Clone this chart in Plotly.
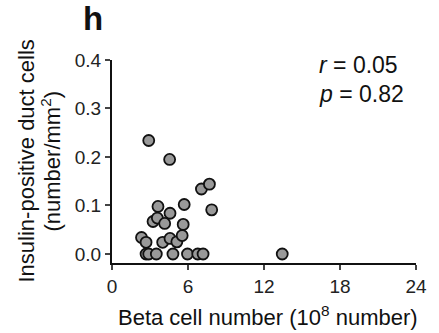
import plotly.graph_objects as go

beta_cells = [2.90, 4.55, 7.06, 7.69, 7.87, 3.63, 5.70, 4.58, 3.24, 3.58, 4.16, 5.62,
              2.33, 2.69, 4.00, 4.58, 5.12, 5.54,
              2.69, 2.90, 3.50, 4.81, 5.96, 6.77, 7.19, 13.44]
duct_cells = [0.234, 0.195, 0.134, 0.144, 0.091, 0.098, 0.102, 0.084, 0.067, 0.074, 0.063, 0.061,
              0.034, 0.024, 0.024, 0.032, 0.025, 0.038,
              0, 0, 0, 0, 0, 0, 0, 0]
x_ticks = [0, 6, 12, 18, 24]
y_ticks = [0.0, 0.1, 0.2, 0.3, 0.4]
y_tick_labels = ["0.0", "0.1", "0.2", "0.3", "0.4"]

FONT = "Liberation Sans, Arial, sans-serif"
INK = "#111111"

fig = go.Figure(go.Scatter(
    x=beta_cells, y=duct_cells, mode="markers",
    marker=dict(size=11, color="#999999", line=dict(color=INK, width=1.8)),
    cliponaxis=False, hoverinfo="skip",
))

fig.update_layout(
    width=439, height=333,
    margin=dict(l=112, r=21, t=60, b=70),
    paper_bgcolor="white", plot_bgcolor="white",
    showlegend=False,
    font=dict(family=FONT, color=INK),
    xaxis=dict(
        range=[0, 24], tickvals=x_ticks, ticks="outside", ticklen=5, tickwidth=1.8,
        showline=True, linewidth=2, linecolor=INK, showgrid=False, zeroline=False,
        tickfont=dict(size=19, family=FONT, color="#222222"),
    ),
    yaxis=dict(
        range=[-0.0186, 0.4], tickvals=y_ticks, ticktext=y_tick_labels, ticks="outside", ticklen=5, tickwidth=1.8,
        showline=True, linewidth=2, linecolor=INK, showgrid=False, zeroline=False,
        tickfont=dict(size=19, family=FONT, color="#222222"),
    ),
    annotations=[
        dict(text="<b>h</b>", xref="paper", yref="paper", x=0, y=1, xanchor="left", yanchor="top",
             xshift=-31, yshift=62, showarrow=False, font=dict(size=33, family=FONT, color=INK)),
        dict(text="Insulin-positive duct cells", xref="paper", yref="paper", x=0, y=0.5,
             xanchor="center", yanchor="middle", xshift=-86, textangle=-90, showarrow=False,
             font=dict(size=22, family=FONT, color=INK)),
        dict(text="(number/mm<sup>2</sup>)", xref="paper", yref="paper", x=0, y=0.5,
             xanchor="center", yanchor="middle", xshift=-62, textangle=-90, showarrow=False,
             font=dict(size=22, family=FONT, color=INK)),
        dict(text="Beta cell number (10<sup>8</sup> number)", xref="paper", yref="paper", x=0.5, y=0,
             xanchor="center", yanchor="middle", xshift=4, yshift=-53, showarrow=False,
             font=dict(size=22, family=FONT, color=INK)),
        dict(text="<i>r</i> = 0.05", xref="paper", yref="paper", x=0, y=1, xanchor="left", yanchor="middle",
             xshift=205, yshift=-5, showarrow=False, font=dict(size=23, family=FONT, color=INK)),
        dict(text="<i>p</i> = 0.82", xref="paper", yref="paper", x=0, y=1, xanchor="left", yanchor="middle",
             xshift=205, yshift=-34, showarrow=False, font=dict(size=23, family=FONT, color=INK)),
    ],
)

fig.write_html("out.html", config={"displayModeBar": False},
               post_script="document.body.style.margin='0';")
